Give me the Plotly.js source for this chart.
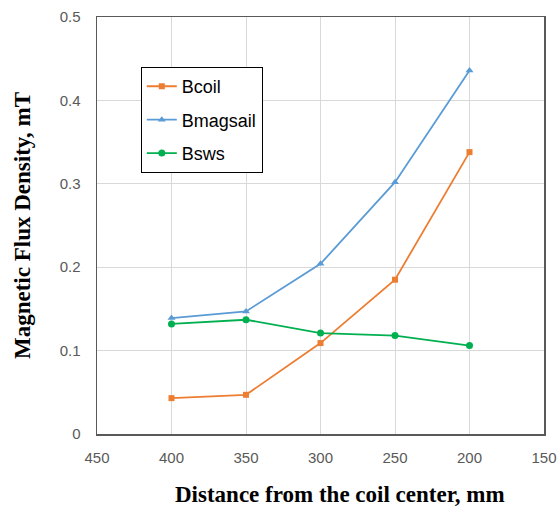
<!DOCTYPE html>
<html><head><meta charset="utf-8">
<script src="https://cdn.plot.ly/plotly-3.0.1.min.js"></script>
<style>html,body{margin:0;padding:0;background:#fff}#chart{width:559px;height:509px}</style>
</head><body><div id="chart"></div>
<script>
const distance = [400, 350, 300, 250, 200];
const bcoil = [0.043, 0.047, 0.109, 0.185, 0.338];
const bmagsail = [0.139, 0.147, 0.204, 0.302, 0.436];
const bsws = [0.132, 0.137, 0.121, 0.118, 0.106];
const xTicks = [450, 400, 350, 300, 250, 200, 150];
const yTicks = [0, 0.1, 0.2, 0.3, 0.4, 0.5];
const xTickText = ['450','400','350','300','250','200','150'];
const yTickText = ['0','0.1','0.2','0.3','0.4','0.5'];

const traces = [
  {x: distance, y: bcoil, name: 'Bcoil', legendgroup: 'a', mode: 'lines+markers',
   line: {color: '#ED7D31', width: 1.8}, marker: {symbol: 'square', size: 6, color: '#ED7D31'}},
  {x: distance, y: bmagsail, name: 'Bmagsail', legendgroup: 'b', mode: 'lines+markers',
   line: {color: '#5B9BD5', width: 1.8}, marker: {symbol: 'triangle-up', size: 7, color: '#5B9BD5'}},
  {x: distance, y: bsws, name: 'Bsws', legendgroup: 'c', mode: 'lines+markers',
   line: {color: '#00B050', width: 1.8}, marker: {symbol: 'circle', size: 7, color: '#00B050'}}
];

const tickFont = {family: 'Liberation Sans, Arial, sans-serif', size: 15, color: '#595959'};
const titleFont = {family: 'Liberation Serif, Times New Roman, serif', size: 23, color: '#000', weight: 'bold'};

const layout = {
  width: 559, height: 509,
  margin: {l: 97, r: 15, t: 17, b: 75},
  paper_bgcolor: '#fff', plot_bgcolor: '#fff',
  showlegend: true,
  legend: {x: 0.098, y: 0.88, xanchor: 'left', yanchor: 'top',
    bordercolor: '#000', borderwidth: 1, bgcolor: '#fff',
    font: {family: 'Liberation Sans, Arial, sans-serif', size: 18, color: '#000'},
    tracegroupgap: 7, itemwidth: 30},
  xaxis: {range: [450, 150], tickvals: xTicks, ticktext: xTickText,
    showgrid: true, gridcolor: '#d9d9d9', gridwidth: 1,
    showline: true, linecolor: '#595959', linewidth: 1.5, mirror: true,
    zeroline: false, ticks: '', ticklabelstandoff: 9,
    tickfont: tickFont},
  yaxis: {range: [0, 0.5], tickvals: yTicks, ticktext: yTickText,
    showgrid: true, gridcolor: '#d9d9d9', gridwidth: 1,
    showline: true, linecolor: '#595959', linewidth: 1.5, mirror: true,
    zeroline: false, ticks: '', ticklabelstandoff: 12,
    tickfont: tickFont,
    title: {text: 'Magnetic Flux Density, mT', standoff: 22, font: titleFont}},
  annotations: [
    {text: 'Distance from the coil center, mm', xref: 'paper', yref: 'paper',
     x: 0.544, y: -0.144, xanchor: 'center', yanchor: 'middle', showarrow: false,
     font: titleFont}
  ]
};

Plotly.newPlot('chart', traces, layout, {displayModeBar: false, staticPlot: true});
</script></body></html>
